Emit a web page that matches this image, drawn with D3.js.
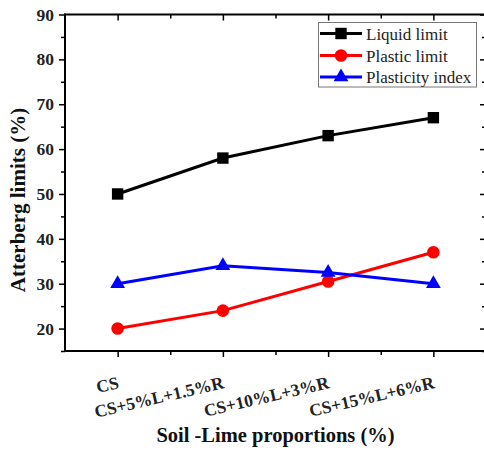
<!DOCTYPE html>
<html>
<head>
<meta charset="utf-8">
<script src="https://cdn.jsdelivr.net/npm/d3@7"></script>
<style>
  html, body { margin: 0; padding: 0; background: #fff; }
  svg { display: block; }
  text { font-family: "Liberation Serif", "Times New Roman", serif; }
</style>
</head>
<body>
<svg id="chart" width="484" height="450"></svg>
<script>
const categories = ["CS", "CS+5%L+1.5%R", "CS+10%L+3%R", "CS+15%L+6%R"];
const liquidLimit = [50, 58, 63, 67];
const plasticLimit = [20, 24, 30.5, 37];
const plasticityIndex = [30, 34, 32.5, 30];
const yTicks = [20, 30, 40, 50, 60, 70, 80, 90];
const yMinorTicks = [15, 25, 35, 45, 55, 65, 75, 85];
const seriesNames = ["Liquid limit", "Plastic limit", "Plasticity index"];

const series = [
  { name: seriesNames[0], values: liquidLimit, color: "#000000", shape: "square" },
  { name: seriesNames[1], values: plasticLimit, color: "#ff0000", shape: "circle" },
  { name: seriesNames[2], values: plasticityIndex, color: "#0000ff", shape: "triangle" }
];

const svg = d3.select("#chart");
const L = 65, R = 486, T = 14.5, B = 351;

const x = d3.scaleLinear().domain([-0.5, categories.length - 0.5]).range([L, R]);
const y = d3.scaleLinear().domain([15, 90]).range([B, T]);

// Axes frame
const ax = svg.append("g").attr("stroke", "#000").attr("stroke-width", 2);
ax.append("line").attr("x1", L).attr("x2", L).attr("y1", T - 1).attr("y2", B + 1);
ax.append("line").attr("x1", L - 1).attr("x2", R).attr("y1", B).attr("y2", B);
ax.append("line").attr("x1", L - 1).attr("x2", R).attr("y1", T).attr("y2", T);
ax.append("line").attr("x1", R).attr("x2", R).attr("y1", T).attr("y2", B);

const catIdx = d3.range(categories.length);
const minorX = d3.range(categories.length - 1).map(i => i + 0.5);

// Bottom axis
const bottomAxis = d3.axisBottom(x).tickValues(catIdx).tickSize(6).tickFormat("");
const gB = svg.append("g").attr("transform", `translate(0,${B})`).call(bottomAxis);
const bottomMinor = d3.axisBottom(x).tickValues(minorX).tickSize(4).tickFormat("");
const gBm = svg.append("g").attr("transform", `translate(0,${B})`).call(bottomMinor);
// Top axis (inward)
const topAxis = d3.axisBottom(x).tickValues(catIdx).tickSize(6).tickFormat("");
const gT = svg.append("g").attr("transform", `translate(0,${T})`).call(topAxis);
const topMinor = d3.axisBottom(x).tickValues(minorX).tickSize(4).tickFormat("");
const gTm = svg.append("g").attr("transform", `translate(0,${T})`).call(topMinor);

// Left axis
const leftAxis = d3.axisLeft(y).tickValues(yTicks).tickSize(6).tickPadding(5).tickFormat(d3.format("d"));
const gL = svg.append("g").attr("transform", `translate(${L},0)`).call(leftAxis);
const leftMinor = d3.axisLeft(y).tickValues(yMinorTicks).tickSize(4).tickFormat("");
const gLm = svg.append("g").attr("transform", `translate(${L},0)`).call(leftMinor);
// Right axis (inward)
const rightAxis = d3.axisLeft(y).tickValues(yTicks).tickSize(6).tickFormat("");
const gR = svg.append("g").attr("transform", `translate(${R},0)`).call(rightAxis);
const rightMinor = d3.axisLeft(y).tickValues(yMinorTicks).tickSize(4).tickFormat("");
const gRm = svg.append("g").attr("transform", `translate(${R},0)`).call(rightMinor);

[gB, gBm, gT, gTm, gL, gLm, gR, gRm].forEach(g => {
  g.select(".domain").remove();
  g.selectAll(".tick line").attr("stroke", "#000").attr("stroke-width", 1.5);
});
gL.selectAll(".tick text")
  .attr("font-family", "Liberation Serif").attr("font-weight", "bold")
  .attr("font-size", 17.5).attr("fill", "#222");

// Rotated category labels
svg.append("g").selectAll("text").data(categories).join("text")
  .attr("transform", (d, i) => `translate(${x(i) + 2},${388}) rotate(-13)`)
  .attr("text-anchor", "end")
  .attr("font-weight", "bold").attr("font-size", 17.5).attr("fill", "#222")
  .text(d => d);

// Axis titles
svg.append("text")
  .attr("transform", `translate(25,200) rotate(-90)`)
  .attr("text-anchor", "middle").attr("font-weight", "bold").attr("font-size", 21)
  .attr("fill", "#111")
  .text("Atterberg limits (%)");
svg.append("text")
  .attr("x", (L + R) / 2).attr("y", 442)
  .attr("text-anchor", "middle").attr("font-weight", "bold").attr("font-size", 20.5)
  .attr("fill", "#111")
  .text("Soil -Lime proportions (%)");

// Lines and markers
const line = d3.line().x((d, i) => x(i)).y(d => y(d));
const symbolOf = s => s === "square" ? d3.symbolSquare : s === "circle" ? d3.symbolCircle : d3.symbolTriangle;
const sizeOf = s => s === "square" ? 130 : s === "circle" ? 125 : 95;

series.forEach(s => {
  svg.append("path").datum(s.values)
    .attr("d", line).attr("fill", "none").attr("stroke", s.color).attr("stroke-width", 3);
  svg.append("g").selectAll("path").data(s.values).join("path")
    .attr("transform", (d, i) => `translate(${x(i)},${y(d)})`)
    .attr("d", d3.symbol().type(symbolOf(s.shape)).size(sizeOf(s.shape)))
    .attr("fill", s.color);
});

// Legend
const lg = svg.append("g");
lg.append("rect").attr("x", 318.5).attr("y", 22.5).attr("width", 158).attr("height", 64.5)
  .attr("fill", "#fff").attr("stroke", "#777").attr("stroke-width", 1);
const legendY = [33.5, 55.5, 77];
series.forEach((s, i) => {
  const gy = legendY[i];
  lg.append("line").attr("x1", 320).attr("x2", 362).attr("y1", gy).attr("y2", gy)
    .attr("stroke", s.color).attr("stroke-width", 3);
  lg.append("path").attr("transform", `translate(341,${gy})`)
    .attr("d", d3.symbol().type(symbolOf(s.shape)).size(sizeOf(s.shape)))
    .attr("fill", s.color);
  lg.append("text").attr("x", 366).attr("y", gy + 6)
    .attr("font-size", 17).attr("fill", "#222").text(s.name);
});
</script>
</body>
</html>
